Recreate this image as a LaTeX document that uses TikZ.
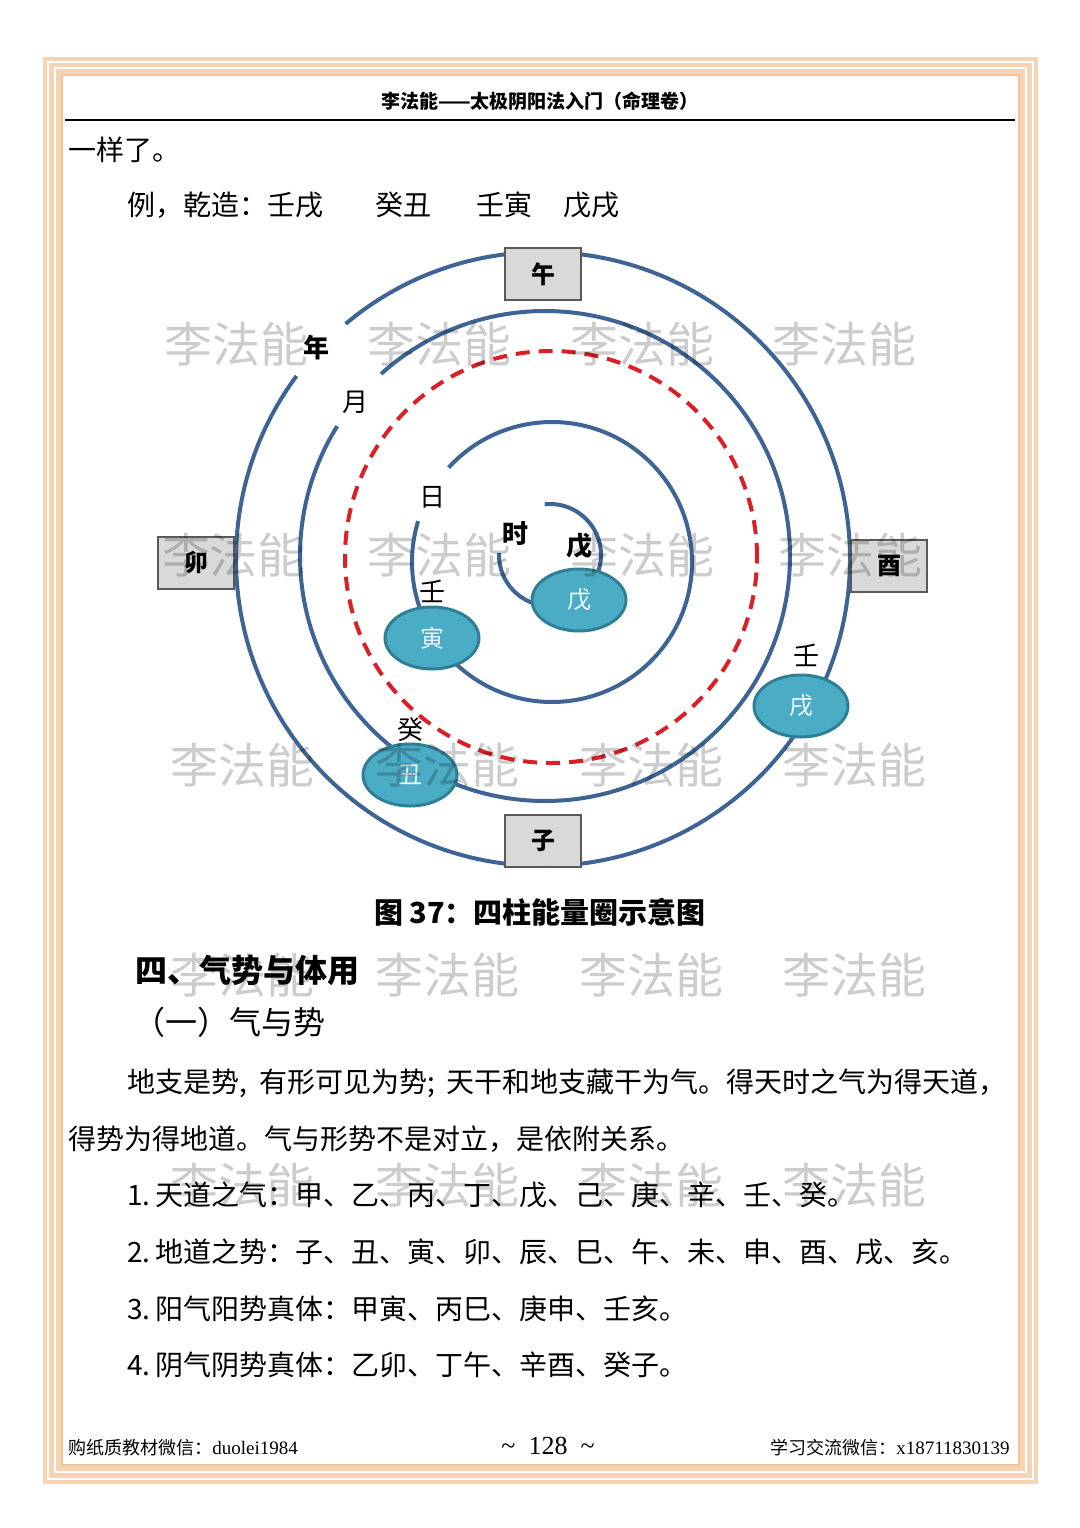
\documentclass[tikz,border=0pt]{standalone}
\usepackage{fontspec}
\setmainfont{Noto Sans CJK SC}
\newfontfamily\latin{Liberation Serif}
\usepackage{tikz}
\usetikzlibrary{positioning,shapes.geometric}
\usepackage{xcolor}
\definecolor{RingBlue}{RGB}{61,100,148}
\definecolor{DashRed}{RGB}{218,32,38}
\definecolor{NodeTeal}{RGB}{75,172,198}
\definecolor{NodeEdge}{RGB}{46,127,150}
\definecolor{BoxGray}{RGB}{217,217,217}
\definecolor{FrameOrange}{RGB}{243,196,152}

\begin{document}
\begin{tikzpicture}[
  x=0.5pt, y=0.5pt,
  every node/.style={inner sep=0pt},
  ringline/.style={draw=RingBlue, line width=2pt},
  dashring/.style={draw=DashRed, line width=2pt, dash pattern=on 7pt off 4.5pt},
  zhinode/.style={ellipse, draw=NodeEdge, fill=NodeTeal, line width=1.5pt, minimum width=47pt, minimum height=31pt, text=white!90!NodeTeal, font=\fontsize{12}{12}\selectfont},
  zhibox/.style={draw=black!65, fill=BoxGray, line width=0.7pt, minimum width=38pt, minimum height=26pt, font=\bfseries\fontsize{12}{12}\selectfont},
  ganlabel/.style={font=\fontsize{13}{13}\selectfont},
  bodytext/.style={anchor=west, font=\fontsize{14}{14}\selectfont},
  headtext/.style={anchor=west, font=\bfseries\fontsize{16}{16}\selectfont},
  foottext/.style={font=\fontsize{9}{9}\selectfont},
  watermark/.style={text=black, text opacity=0.2, font=\fontsize{24}{24}\selectfont}
]
\useasboundingbox (0,0) rectangle (1080,-1528);
\fill[white] (0,0) rectangle (1080,-1528);

% page frame
\fill[FrameOrange!75] (43,-57) rectangle (1038,-1484);
\draw[white, line width=1.2pt] (48,-62) rectangle (1033,-1479);
\draw[white, line width=1.2pt] (55,-68) rectangle (1026,-1472);
\fill[white] (62,-75) rectangle (1019,-1465);
\draw[FrameOrange, line width=0.8pt] (62,-75) rectangle (1019,-1465);

% header
\node[font=\bfseries\fontsize{9.5}{9.5}\selectfont] (title) at (540,-101) {李法能——太极阴阳法入门（命理卷）};
\draw[line width=1.1pt] (65,-120) -- (1015,-120);

\node[bodytext] (line0) at (68,-150) {一样了。};
\node[bodytext] (case1) at (127,-205) {例，乾造：壬戌};
\node[bodytext] (case2) at (375,-205) {癸丑};
\node[bodytext] (case3) at (476,-205) {壬寅};
\node[bodytext] (case4) at (563,-205) {戊戌};

% rings
\draw[ringline] (543,-559) ++(130:307) arc[start angle=130, end angle=-216.6, radius=307];
\draw[ringline] (545,-556) ++(132:245) arc[start angle=132, end angle=-212, radius=245];
\draw[dashring] (551,-557) circle[radius=206];
\draw[ringline] (552,-562) ++(137.6:140) arc[start angle=137.6, end angle=-197, radius=140];
\draw[ringline] (550,-555) ++(96:51) arc[start angle=96, end angle=-182.4, radius=51];

% branch nodes on the rings
\node[zhinode] (hourzhi) at (579,-600) {戊};
\node[zhinode] (dayzhi) at (432,-638) {寅};
\node[zhinode] (monthzhi) at (410,-775) {丑};
\node[zhinode] (yearzhi) at (801,-706) {戌};

\node[ganlabel, font=\bfseries\fontsize{13}{13}\selectfont, above=4pt of hourzhi] (hourgan) {戊};
\node[ganlabel, above=1pt of dayzhi] (daygan) {壬};
\node[ganlabel, above=0pt of monthzhi] (monthgan) {癸};
\node[ganlabel, above=3pt of yearzhi, xshift=2.5pt] (yeargan) {壬};

\node[ganlabel, font=\bfseries\fontsize{13}{13}\selectfont] (yearlbl) at (316,-348) {年};
\node[ganlabel] (monthlbl) at (355,-402) {月};
\node[ganlabel] (daylbl) at (432,-497) {日};
\node[ganlabel, font=\bfseries\fontsize{13}{13}\selectfont] (hourlbl) at (515,-533) {时};

% compass boxes
\node[zhibox] (wu) at (543,-274) {午};
\node[zhibox] (zi) at (543,-841) {子};
\node[zhibox] (mao) at (196,-563) {卯};
\node[zhibox] (you) at (889,-566) {酉};

\node[font=\bfseries\fontsize{14.5}{14.5}\selectfont] (caption) at (540,-912) {图 37：四柱能量圈示意图};

% text below
\node[headtext] (sec4) at (135,-970) {四、气势与体用};
\node[headtext, font=\fontsize{16}{16}\selectfont] (sub1) at (133,-1022) {（一）气与势};
\node[bodytext] (para1) at (127,-1083) {地支是势,\hspace{6pt}有形可见为势;\hspace{6pt}天干和地支藏干为气。得天时之气为得天道，};
\node[bodytext] (para2) at (68,-1139) {得势为得地道。气与形势不是对立，是依附关系。};
\node[bodytext] (item1) at (127,-1195) {1.\,天道之气：甲、乙、丙、丁、戊、己、庚、辛、壬、癸。};
\node[bodytext] (item2) at (127,-1252) {2.\,地道之势：子、丑、寅、卯、辰、巳、午、未、申、酉、戌、亥。};
\node[bodytext] (item3) at (127,-1309) {3.\,阳气阳势真体：甲寅、丙巳、庚申、壬亥。};
\node[bodytext] (item4) at (127,-1365) {4.\,阴气阴势真体：乙卯、丁午、辛酉、癸子。};

% footer
\node[foottext, anchor=west] (footl) at (68,-1448) {购纸质教材微信：{\latin\fontsize{9.5}{9.5}\selectfont duolei1984}};
\node[font=\latin\fontsize{13}{13}\selectfont] (pageno) at (548,-1446) {\textasciitilde\ \ 128 \ \textasciitilde};
\node[foottext, anchor=east] (footr) at (1010,-1448) {学习交流微信：{\latin\fontsize{9.5}{9.5}\selectfont x18711830139}};

% watermarks
\node[watermark] (wm11) at (236,-344) {李法能}; \node[watermark] (wm12) at (439,-344) {李法能}; \node[watermark] (wm13) at (642,-344) {李法能}; \node[watermark] (wm14) at (844,-344) {李法能};
\node[watermark] (wm21) at (234,-555) {李法能}; \node[watermark] (wm22) at (439,-555) {李法能}; \node[watermark] (wm23) at (642,-555) {李法能}; \node[watermark] (wm24) at (850,-555) {李法能};
\node[watermark] (wm31) at (242,-765) {李法能}; \node[watermark] (wm32) at (447,-765) {李法能}; \node[watermark] (wm33) at (651,-765) {李法能}; \node[watermark] (wm34) at (854,-765) {李法能};
\node[watermark] (wm41) at (242,-975) {李法能}; \node[watermark] (wm42) at (447,-975) {李法能}; \node[watermark] (wm43) at (651,-975) {李法能}; \node[watermark] (wm44) at (854,-975) {李法能};
\node[watermark] (wm51) at (242,-1185) {李法能}; \node[watermark] (wm52) at (447,-1185) {李法能}; \node[watermark] (wm53) at (651,-1185) {李法能}; \node[watermark] (wm54) at (854,-1185) {李法能};
\end{tikzpicture}
\end{document}
